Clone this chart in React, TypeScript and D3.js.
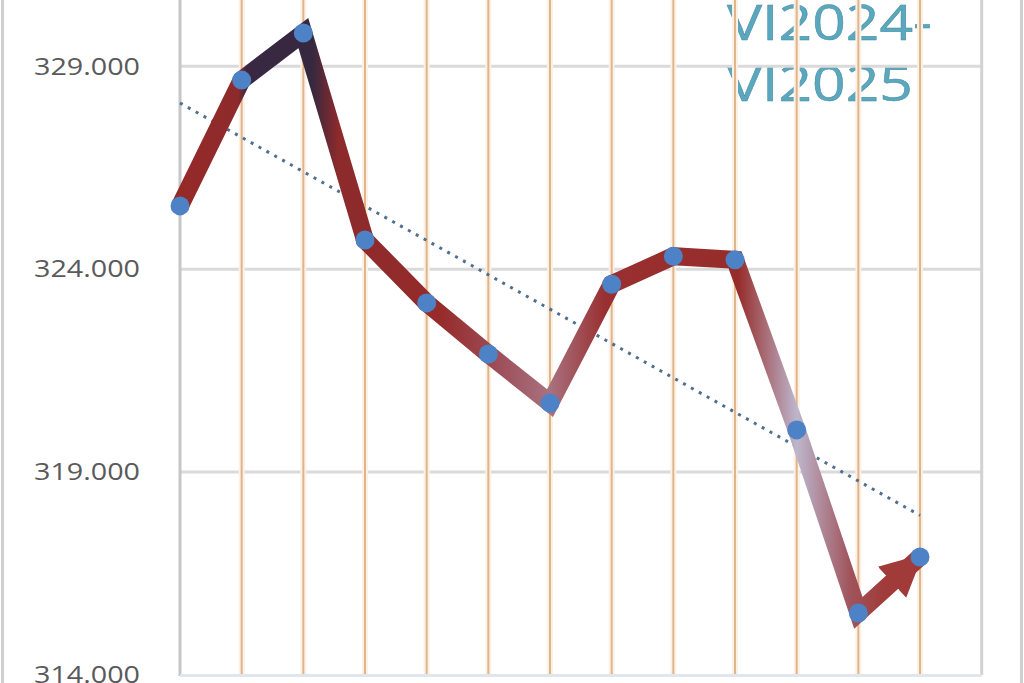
import * as d3 from 'd3'

const WIDTH = 1024
const HEIGHT = 683

// months VI2024 .. VI2025
const months = ['VI2024', 'VII2024', 'VIII2024', 'IX2024', 'X2024', 'XI2024', 'XII2024', 'I2025', 'II2025', 'III2025', 'IV2025', 'V2025', 'VI2025']
const values = [325560, 328660, 329820, 324720, 323170, 321910, 320700, 323630, 324320, 324230, 320040, 315530, 316910]
const yTicks = [314000, 319000, 324000, 329000]
const titleLines = ['VI2024-', 'VI2025']

const x = d3.scaleLinear().domain([0, months.length]).range([180, 981.7])
const y = d3.scaleLinear().domain([314000, 329000]).range([675, 66.3])

const fmt = d3.formatLocale({ decimal: ',', thousands: '.', grouping: [3], currency: ['', ''] }).format(',')

// least squares trend over the series
const n = values.length
const meanX = d3.mean(values, (_, i) => i)!
const meanY = d3.mean(values)!
const slope =
  d3.sum(values, (v, i) => (i - meanX) * (v - meanY)) / d3.sum(values, (_, i) => (i - meanX) ** 2)
const intercept = meanY - slope * meanX

const line = d3
  .line<number>()
  .x((_, i) => x(i))
  .y((d) => y(d))

// horizontal gradient of the line fill (pixel x, colour)
const GRADIENT: [number, string][] = [
  [180, '#952a28'],
  [238, '#8e2a2c'],
  [247, '#3a2842'],
  [312, '#35283f'],
  [338, '#8c2a2c'],
  [440, '#962b2a'],
  [492, '#9c4a54'],
  [550, '#a8727f'],
  [605, '#992f30'],
  [738, '#962c2a'],
  [797, '#bdb6cd'],
  [850, '#a0545c'],
  [885, '#a03b39'],
]

export default function App() {
  const innerTicks = d3.range(1, months.length)
  return (
    <svg
      width={WIDTH}
      height={HEIGHT}
      viewBox={`0 0 ${WIDTH} ${HEIGHT}`}
      style={{ position: 'absolute', left: 0, top: 0, background: '#fff' }}
    >
      <defs>
        <linearGradient id="lineGrad" gradientUnits="userSpaceOnUse" x1={0} x2={WIDTH} y1={0} y2={0}>
          {GRADIENT.map(([px, c]) => (
            <stop key={px} offset={px / WIDTH} stopColor={c} />
          ))}
        </linearGradient>
        <marker
          id="arrow"
          markerUnits="userSpaceOnUse"
          viewBox="0 0 10 10"
          refX={9}
          refY={5}
          markerWidth={42}
          markerHeight={46}
          orient="auto"
        >
          <path d="M0,0 L10,5 L0,10 z" fill="#a03b39" />
        </marker>
      </defs>

      {/* frame of the picture */}
      <line x1={2.5} x2={2.5} y1={0} y2={HEIGHT} stroke="#cfcfcf" strokeWidth={3} />
      <line x1={1021.5} x2={1021.5} y1={0} y2={HEIGHT} stroke="#cfcfcf" strokeWidth={3} />

      {/* title */}
      <g fontFamily="'Open Sans', sans-serif" fontSize={50} fill="#5aa7be" stroke="#468ea3" strokeWidth={0.5}>
        {titleLines.map((t, i) => (
          <text
            key={t}
            x={727}
            y={40 + i * 61}
            textLength={i === 0 ? 205 : 186}
            lengthAdjust="spacingAndGlyphs"
          >
            {t}
          </text>
        ))}
      </g>

      {/* horizontal grid */}
      {yTicks.slice(1).map((t) => (
        <line key={t} x1={x(0)} x2={x(months.length)} y1={y(t)} y2={y(t)} stroke="#dadada" strokeWidth={3} />
      ))}

      {/* vertical grid */}
      {innerTicks.map((i) => (
        <g key={i}>
          <line x1={x(i)} x2={x(i)} y1={0} y2={675} stroke="#fdf0e4" strokeWidth={6} />
          <line x1={x(i)} x2={x(i)} y1={0} y2={675} stroke="#e0b58c" strokeWidth={2} />
        </g>
      ))}
      <line x1={x(months.length)} x2={x(months.length)} y1={0} y2={675} stroke="#d2d2d2" strokeWidth={3} />
      <line x1={x(0)} x2={x(0)} y1={0} y2={676} stroke="#c6c6c6" strokeWidth={3} />
      <line x1={x(0)} x2={x(months.length)} y1={675.5} y2={675.5} stroke="#dfe6ee" strokeWidth={3} />

      {/* y axis labels */}
      <g fontFamily="'Open Sans', sans-serif" fontSize={23} fill="#5a5a5a">
        {yTicks.map((t) => (
          <text
            key={t}
            x={140}
            y={y(t)}
            dy="0.36em"
            textAnchor="end"
            textLength={106}
            lengthAdjust="spacingAndGlyphs"
          >
            {fmt(t)}
          </text>
        ))}
      </g>

      {/* trend line */}
      <line
        x1={x(0)}
        x2={x(n - 1)}
        y1={y(intercept)}
        y2={y(intercept + slope * (n - 1))}
        stroke="#4f6f8e"
        strokeWidth={3}
        strokeDasharray="3 6"
      />

      {/* data line */}
      <path
        d={line(values) ?? ''}
        fill="none"
        stroke="url(#lineGrad)"
        strokeWidth={18}
        strokeLinejoin="miter"
        markerEnd="url(#arrow)"
      />

      {/* markers */}
      {values.map((v, i) => (
        <circle key={months[i]} cx={x(i)} cy={y(v)} r={9.5} fill="#4e82c6" />
      ))}
    </svg>
  )
}
